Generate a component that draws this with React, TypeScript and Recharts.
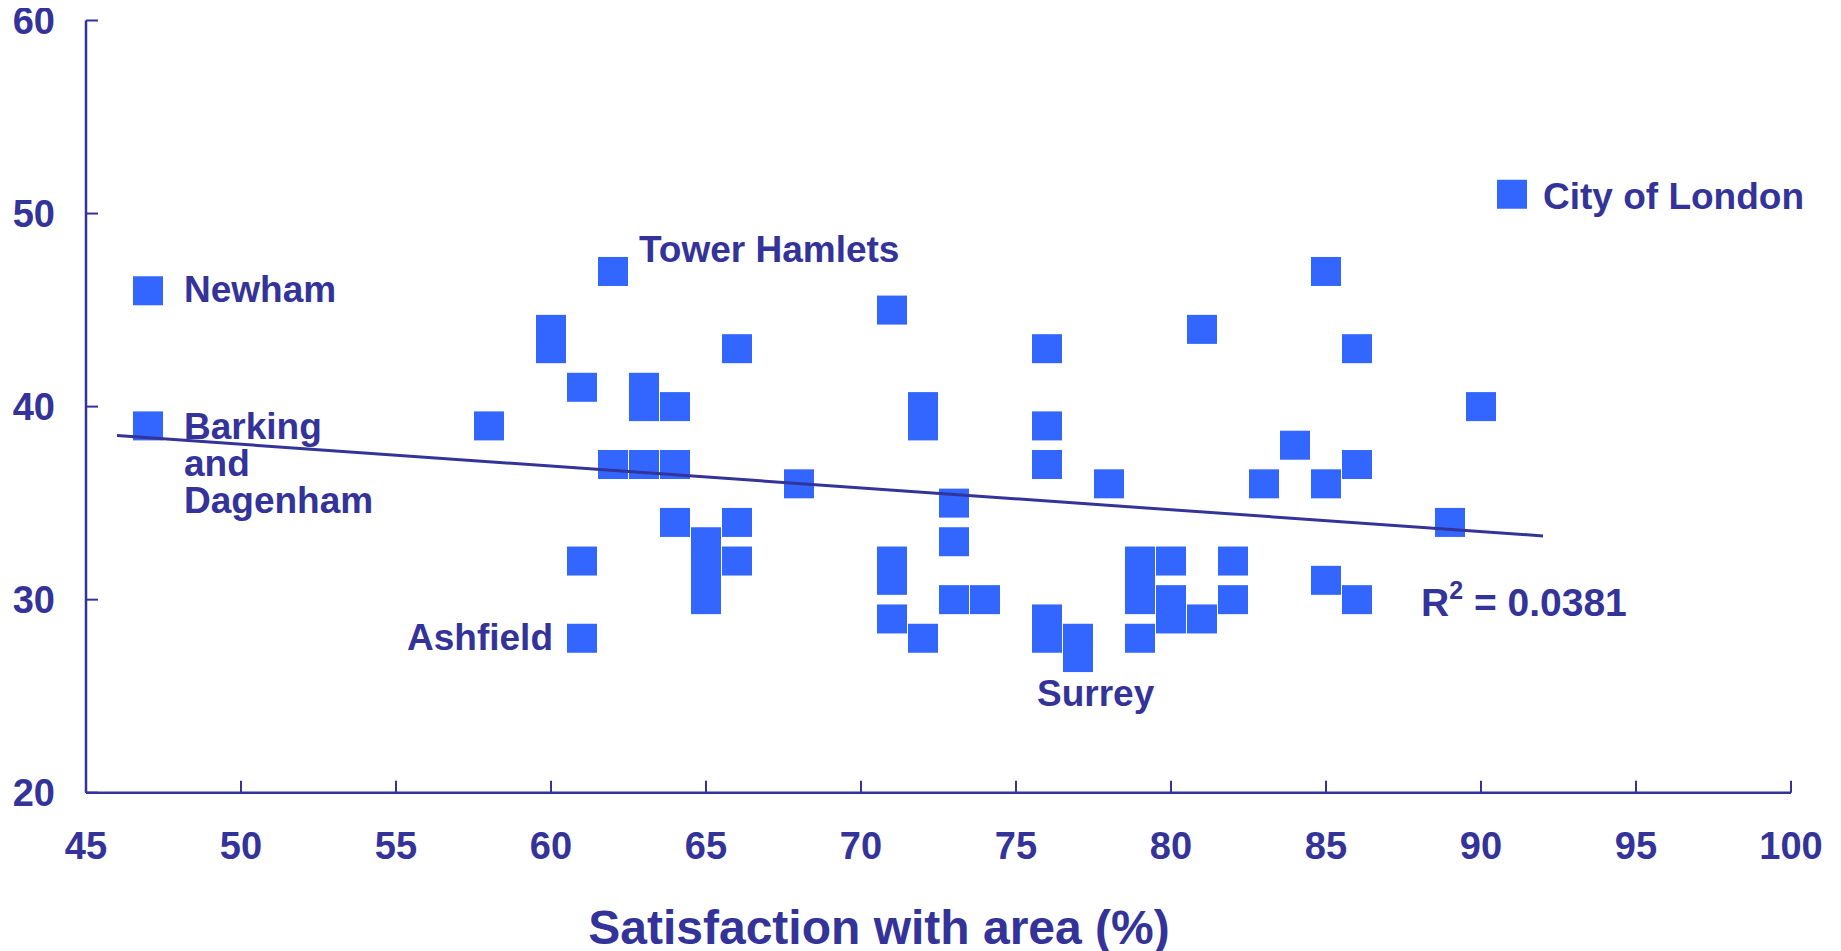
import React from 'react';
import { ScatterChart, Scatter, XAxis, YAxis, Label } from 'recharts';

// Satisfaction with area (%) for each local authority
const satisfaction = [
  47, 47, 58, 60, 60, 61, 61, 61, 62, 62, 63, 63, 63, 64, 64, 64, 65, 65, 65, 65,
  66, 66, 66, 68, 71, 71, 71, 71, 72, 72, 72, 73, 73, 73, 74, 76, 76, 76, 76, 76,
  77, 77, 78, 79, 79, 79, 79, 80, 80, 80, 81, 81, 82, 82, 83, 84, 85, 85, 85, 86,
  86, 86, 89, 90, 91,
];
// Y-axis measure for each local authority
const yMeasure = [
  46, 39, 39, 44, 43, 41, 32, 28, 47, 37, 41, 40, 37, 40, 37, 34, 33, 32, 31, 30,
  43, 34, 32, 36, 45, 32, 31, 29, 40, 39, 28, 35, 33, 30, 30, 43, 39, 37, 29, 28,
  28, 27, 36, 32, 31, 30, 28, 32, 30, 29, 44, 29, 32, 30, 36, 38, 47, 36, 31, 43,
  37, 30, 34, 40, 51,
];
const areaNames: Record<number, string> = {
  0: 'Newham',
  1: 'Barking and Dagenham',
  7: 'Ashfield',
  8: 'Tower Hamlets',
  41: 'Surrey',
  64: 'City of London',
};
const xTicks = [45, 50, 55, 60, 65, 70, 75, 80, 85, 90, 95, 100];
const yTicks = [20, 30, 40, 50, 60];
const trendX = [46, 92];
const trendY = [38.5, 33.3];
const rSquaredText = '0.0381';
const xTitle = 'Satisfaction with area (%)';

const NAVY = '#333399';
const BLUE = '#3366FF';
const FONT = '"Liberation Sans", Arial, Helvetica, sans-serif';

const points = satisfaction.map((x, i) => ({ x, y: yMeasure[i], name: areaNames[i] || '' }));
const labelledPoints = points.filter((p) => p.name);
const trendPoints = trendX.map((x, i) => ({ x, y: trendY[i] }));

type LabelLayout = { dx: number; dy: number; anchor: 'start' | 'end' | 'middle'; lines: string[] };
const labelLayout: Record<string, LabelLayout> = {
  Newham: { dx: 36, dy: -2, anchor: 'start', lines: ['Newham'] },
  'Barking and Dagenham': { dx: 36, dy: 0, anchor: 'start', lines: ['Barking', 'and', 'Dagenham'] },
  Ashfield: { dx: -29, dy: -2, anchor: 'end', lines: ['Ashfield'] },
  'Tower Hamlets': { dx: 26, dy: -23, anchor: 'start', lines: ['Tower Hamlets'] },
  Surrey: { dx: -41, dy: 35, anchor: 'start', lines: ['Surrey'] },
  'City of London': { dx: 31, dy: 1, anchor: 'start', lines: ['City of London'] },
};

const SquareMarker = (props: any) => {
  const { cx, cy } = props;
  if (cx == null || cy == null) return <g />;
  return <rect x={cx - 15} y={cy - 14.5} width={30} height={29} fill={BLUE} />;
};

const AreaLabel = (props: any) => {
  const { cx, cy, payload } = props;
  const layout = payload && labelLayout[payload.name];
  if (cx == null || cy == null || !layout) return <g />;
  const tx = cx + layout.dx;
  return (
    <text
      x={tx}
      y={cy + layout.dy}
      textAnchor={layout.anchor}
      fill={NAVY}
      fontFamily={FONT}
      fontWeight="bold"
      fontSize={37}
    >
      {layout.lines.map((line, i) => (
        <tspan key={i} x={tx} dy={i === 0 ? '0.36em' : 37}>
          {line}
        </tspan>
      ))}
    </text>
  );
};

const TrendEnd = (props: any) => {
  const { cx, cy, payload } = props;
  if (cx == null || cy == null || !payload || payload.x !== trendX[trendX.length - 1]) return <g />;
  return (
    <text
      x={cx - 122}
      y={cy + 66}
      dy="0.36em"
      fill={NAVY}
      fontFamily={FONT}
      fontWeight="bold"
      fontSize={39}
    >
      R
      <tspan fontSize={25} dy={-17}>
        2
      </tspan>
      <tspan dy={17}>{' = ' + rSquaredText}</tspan>
    </text>
  );
};

const tickStyle = { fill: NAVY, fontFamily: FONT, fontWeight: 'bold', fontSize: 38 } as any;

export default function App() {
  return (
    <div style={{ width: 1825, height: 963, marginTop: -10 }}>
      <ScatterChart
        width={1825}
        height={963}
        margin={{ top: 22.5, right: 42, bottom: 68.3, left: 0 }}
      >
        <XAxis
          type="number"
          dataKey="x"
          domain={[45, 100]}
          ticks={xTicks}
          interval={0}
          height={100}
          axisLine={{ stroke: NAVY, strokeWidth: 2.5 }}
          tickLine={{ stroke: NAVY, strokeWidth: 2 }}
          tickSize={-12}
          tickMargin={51}
          tick={tickStyle}
        >
          <Label
            value={xTitle}
            position="bottom"
            offset={17}
            dx={-59.5}
            style={{ fill: NAVY, fontFamily: FONT, fontWeight: 'bold', fontSize: 48 }}
          />
        </XAxis>
        <YAxis
          type="number"
          dataKey="y"
          domain={[20, 60]}
          ticks={yTicks}
          interval={0}
          width={78}
          axisLine={{ stroke: NAVY, strokeWidth: 2.5 }}
          tickLine={{ stroke: NAVY, strokeWidth: 2 }}
          tickSize={-12}
          tickMargin={43}
          tick={tickStyle}
        />
        <Scatter data={points} shape={SquareMarker} isAnimationActive={false} />
        <Scatter
          data={trendPoints}
          line={{ stroke: NAVY, strokeWidth: 3 }}
          shape={TrendEnd}
          isAnimationActive={false}
        />
        <Scatter data={labelledPoints} shape={AreaLabel} isAnimationActive={false} />
      </ScatterChart>
    </div>
  );
}
